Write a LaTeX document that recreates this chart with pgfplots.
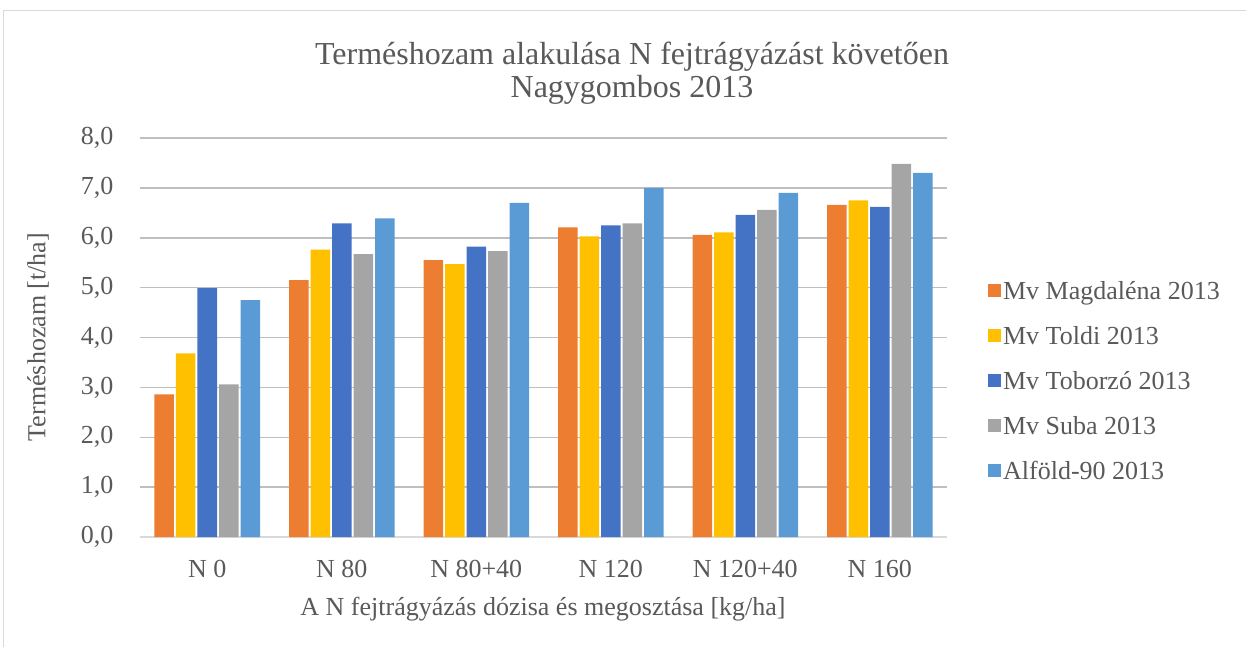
\documentclass[border=0pt]{standalone}
\usepackage{pgfplots}
\pgfplotsset{compat=1.18}
\usepackage{fontspec}
\setmainfont{Liberation Serif}
\definecolor{txt}{RGB}{89,89,89}
\definecolor{grid}{RGB}{217,217,217}
\definecolor{cA}{HTML}{ED7D31}
\definecolor{cB}{HTML}{FFC000}
\definecolor{cC}{HTML}{4472C4}
\definecolor{cD}{HTML}{A5A5A5}
\definecolor{cE}{HTML}{5B9BD5}
\begin{document}
\begin{tikzpicture}
\useasboundingbox (-140pt,-109pt) rectangle (1106pt,537pt);
\draw[grid,line width=1pt] (-136pt,-115pt) -- (-136pt,526pt) -- (1110pt,526pt);
\begin{axis}[
  scale only axis, width=807pt, height=399pt,
  xmin=-0.5, xmax=5.5, ymin=0, ymax=8,
  ybar=2pt, bar width=19.5pt,
  xtick=data, xticklabels={N 0,N 80,N 80+40,N 120,N 120+40,N 160},
  ytick={0,1,...,8},
  major tick length=0pt,
  axis x line*=bottom, axis y line*=left,
  x axis line style={grid,line width=1.5pt,-},
  y axis line style={draw=none},
  ymajorgrids, xmajorgrids=false, grid style={grid,line width=1.5pt},
  /pgf/number format/assume math mode=true,
  /pgf/number format/fixed,
  /pgf/number format/fixed zerofill,
  /pgf/number format/precision=1,
  /pgf/number format/use comma,
  ticklabel style={font=\fontsize{26}{30}\selectfont, text=txt},
  xticklabel style={yshift=-20pt},
  yticklabel style={xshift=-23pt},
  legend style={at={(1.047,0.391)}, anchor=west, draw=none, fill=none,
    font=\fontsize{26}{30}\selectfont, text=txt, row sep=21.5pt,
    /tikz/every even column/.append style={column sep=9pt}},
  legend cell align=left,
  legend image code/.code={\fill[#1,draw=none] (0pt,-6pt) rectangle (13pt,7pt);},
]
\addplot[fill=cA,draw=none] coordinates {(0,2.86) (1,5.15) (2,5.55) (3,6.21) (4,6.06) (5,6.66)};
\addplot[fill=cB,draw=none] coordinates {(0,3.68) (1,5.76) (2,5.47) (3,6.03) (4,6.11) (5,6.75)};
\addplot[fill=cC,draw=none] coordinates {(0,4.99) (1,6.29) (2,5.82) (3,6.25) (4,6.46) (5,6.62)};
\addplot[fill=cD,draw=none] coordinates {(0,3.06) (1,5.67) (2,5.73) (3,6.29) (4,6.56) (5,7.48)};
\addplot[fill=cE,draw=none] coordinates {(0,4.75) (1,6.39) (2,6.70) (3,7.00) (4,6.90) (5,7.30)};
\legend{Mv Magdaléna 2013, Mv Toldi 2013, Mv Toborzó 2013, Mv Suba 2013, Alföld-90 2013}
\end{axis}
\node[text=txt,font=\fontsize{32}{38}\selectfont] at (492pt,480pt) {Terméshozam alakulása N fejtrágyázást követően};
\node[text=txt,font=\fontsize{32}{38}\selectfont] at (492pt,447pt) {Nagygombos 2013};
\node[text=txt,font=\fontsize{26}{30}\selectfont] at (403pt,-72pt) {A N fejtrágyázás dózisa és megosztása [kg/ha]};
\node[text=txt,font=\fontsize{26}{30}\selectfont,rotate=90] at (-102pt,200pt) {Terméshozam [t/ha]};
\end{tikzpicture}
\end{document}
